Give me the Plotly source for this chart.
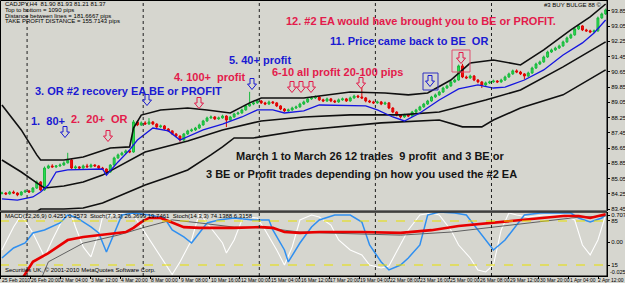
import plotly.graph_objects as go

W, H = 625, 283
BG = "#d6d6cf"

# ---------------- price data (CADJPY H4) ----------------
opens = [84.27,84.29,84.24,84.34,84.29,84.19,84.34,84.40,84.34,84.55,
84.87,84.45,85.60,85.71,85.66,85.71,85.76,85.87,86.02,85.60,
85.66,85.60,85.71,85.66,85.76,85.71,85.60,85.55,85.39,85.76,
86.13,86.29,86.39,86.50,86.44,88.02,87.86,87.97,87.91,88.02,
87.91,87.76,87.81,87.65,87.55,87.39,87.28,87.07,87.39,87.55,
87.60,87.70,87.86,88.07,88.23,88.28,88.18,88.23,88.33,88.12,
88.28,88.44,88.49,88.65,88.86,88.96,89.02,89.12,89.02,88.96,
89.07,89.02,88.86,88.70,88.60,88.65,88.75,88.81,88.96,89.07,
89.23,89.28,89.33,89.18,89.12,89.23,89.12,89.07,89.18,89.23,
89.12,89.28,89.38,89.33,89.28,89.12,89.07,89.02,89.07,88.96,
89.02,88.75,88.54,88.39,88.28,88.39,88.33,88.54,88.65,88.81,
88.96,89.12,89.33,89.44,89.59,89.80,89.91,90.12,90.22,90.96,
90.38,90.33,90.43,90.22,90.12,89.96,90.07,90.12,90.17,90.12,
90.22,90.38,90.54,90.70,90.64,90.54,90.43,90.59,90.85,91.06,
91.17,91.43,91.69,91.80,91.90,92.01,92.22,92.43,92.59,92.90,
93.06,92.85,92.80,92.74,92.80,93.48,93.69]
closes = [84.29,84.24,84.34,84.29,84.19,84.34,84.40,84.34,84.55,84.87,
84.45,85.60,85.71,85.66,85.71,85.76,85.87,86.02,85.60,85.66,
85.60,85.71,85.66,85.76,85.71,85.60,85.55,85.39,85.76,86.13,
86.29,86.39,86.50,86.44,88.02,87.86,87.97,87.91,88.02,87.91,
87.76,87.81,87.65,87.55,87.39,87.28,87.07,87.39,87.55,87.60,
87.70,87.86,88.07,88.23,88.28,88.18,88.23,88.33,88.12,88.28,
88.44,88.49,88.65,88.86,88.96,89.02,89.12,89.02,88.96,89.07,
89.02,88.86,88.70,88.60,88.65,88.75,88.81,88.96,89.07,89.23,
89.28,89.33,89.18,89.12,89.23,89.12,89.07,89.18,89.23,89.12,
89.28,89.38,89.33,89.28,89.12,89.07,89.02,89.07,88.96,89.02,
88.75,88.54,88.39,88.28,88.39,88.33,88.54,88.65,88.81,88.96,
89.12,89.33,89.44,89.59,89.80,89.91,90.12,90.22,90.96,90.38,
90.33,90.43,90.22,90.12,89.96,90.07,90.12,90.17,90.12,90.22,
90.38,90.54,90.70,90.64,90.54,90.43,90.59,90.85,91.06,91.17,
91.43,91.69,91.80,91.90,92.01,92.22,92.43,92.59,92.90,93.06,
92.85,92.80,92.74,92.80,93.48,93.69,93.90]
highs = [84.36,84.33,84.40,84.42,84.33,84.39,84.47,84.45,84.60,84.95,
84.92,85.68,85.78,85.80,85.76,85.84,85.95,86.40,86.08,85.74,
85.70,85.78,85.82,85.83,85.80,85.75,85.66,85.58,85.80,86.20,
86.36,86.46,86.57,86.55,88.12,88.08,88.05,88.06,88.22,88.07,
87.95,87.88,87.86,87.70,87.58,87.43,87.31,87.44,87.61,87.68,
87.76,87.93,88.13,88.30,88.36,88.33,88.30,88.40,88.37,88.34,
88.50,88.56,88.72,88.93,89.60,89.10,89.20,89.17,89.08,89.14,
89.12,89.06,88.90,88.75,88.72,88.82,88.88,89.03,89.14,89.30,
89.36,89.41,89.38,89.24,89.30,89.28,89.18,89.25,89.30,89.28,
89.35,89.45,89.44,89.90,89.33,89.18,89.13,89.14,89.12,89.09,
89.06,88.79,88.58,88.43,88.45,88.44,88.60,88.71,88.87,89.02,
89.18,89.39,89.51,89.66,89.87,89.98,90.19,90.30,91.03,91.07,
90.45,90.50,90.48,90.27,90.16,90.14,90.19,90.24,90.22,90.29,
90.45,90.61,90.77,90.78,90.70,90.58,90.66,90.92,91.13,91.24,
91.50,91.76,91.87,91.97,92.08,92.29,92.50,92.66,92.97,93.13,
93.10,92.91,92.86,92.87,93.55,93.76,93.97]
lows = [84.21,84.18,84.20,84.24,84.12,84.15,84.30,84.29,84.31,84.50,
84.40,84.41,85.55,85.61,85.60,85.66,85.72,85.84,85.55,85.54,
85.55,85.56,85.62,85.62,85.66,85.55,85.49,85.30,85.35,85.72,
86.08,86.25,86.33,86.38,86.40,87.80,87.81,87.86,87.87,87.85,
87.70,87.71,87.60,87.49,87.33,87.22,86.98,87.02,87.34,87.50,
87.55,87.65,87.82,88.02,88.18,88.12,88.13,88.19,87.75,88.08,
88.24,88.40,88.45,88.61,88.82,88.90,88.97,88.96,88.90,88.91,
88.96,88.80,88.64,88.54,88.55,88.60,88.70,88.76,88.91,89.02,
89.18,89.22,89.12,89.06,89.07,89.06,89.01,89.02,89.13,89.07,
89.08,89.23,89.27,89.22,89.05,89.01,88.96,88.97,88.90,88.91,
88.69,88.48,88.32,88.20,88.23,88.27,88.29,88.49,88.60,88.76,
88.91,89.08,89.28,89.39,89.54,89.75,89.86,90.07,90.18,90.32,
90.27,90.28,90.16,90.05,89.80,89.90,90.01,90.07,90.06,90.07,
90.17,90.33,90.49,90.58,90.48,90.25,90.38,90.54,90.80,91.01,
91.12,91.38,91.64,91.75,91.85,91.96,92.17,92.38,92.54,92.85,
92.79,92.74,92.68,92.69,92.75,93.43,93.64]
bars = list(range(len(closes)))

# ---------------- channel lines (bar index, price) ----------------
upper_x = [0,5,9,10,16,21,28,33,34,36,41,48,53,59,64,67,78,90,99,105,110,116,121,127,134,140,147,152,156]
upper_y = [88.91,87.60,86.29,86.02,86.02,86.18,86.65,86.71,87.70,88.38,88.65,88.75,88.65,88.49,89.02,89.28,89.28,89.59,89.54,89.44,89.54,90.22,91.11,91.27,91.01,91.80,92.85,93.53,94.21]
blue_x = [0,4,8,10,12,14,17,26,27,30,33,35,39,43,46,52,57,62,66,70,73,78,82,89,94,97,101,104,108,113,118,123,127,130,135,140,145,150,153,156]
blue_y = [83.98,83.92,84.08,84.34,84.71,85.39,85.50,85.55,85.23,85.92,86.55,87.07,87.70,87.55,87.07,87.60,87.91,88.28,88.65,88.65,88.49,88.60,88.91,88.86,88.86,88.65,88.28,88.07,88.49,89.17,89.75,89.96,89.80,89.85,90.22,90.75,91.53,92.17,92.69,93.37]
mid_x = [0,5,9,11,16,21,26,31,37,48,57,67,78,90,103,113,125,134,145,156]
mid_y = [86.02,85.39,84.82,84.55,84.66,84.87,85.23,85.76,86.44,87.02,87.60,88.07,88.28,88.39,88.39,88.54,89.17,89.70,90.91,92.22]
low_x = [8,10,16,21,26,31,37,43,48,54,57,60,65,78,98,113,119,124,127,134,145,156]
low_y = [83.19,83.45,83.45,83.50,83.77,84.19,84.71,85.13,85.50,86.29,86.71,87.18,87.18,87.60,87.97,88.12,87.76,87.76,88.12,88.75,89.44,90.75]

# ---------------- lower window: MACD + stochastics ----------------
macd_x = [5,8,12,17,21,25,30,32,34,36,38,41,43,47,51,60,67,70,73,77,82,93,103,111,118,129,139,145,149,152,156]
macd_y = [-1.00,-0.52,-0.29,0.05,0.13,0.18,0.24,0.26,0.37,0.52,0.63,0.63,0.55,0.39,0.37,0.37,0.39,0.37,0.26,0.24,0.26,0.26,0.24,0.31,0.42,0.52,0.63,0.68,0.68,0.63,0.73]
sig_x = [10,12,21,30,37,43,44,51,60,68,77,82,90,103,116,129,142,149,156]
sig_y = [-1.00,-0.52,-0.03,0.18,0.39,0.55,0.58,0.50,0.39,0.37,0.26,0.24,0.21,0.18,0.26,0.42,0.58,0.65,0.68]
stoch_b_x = [0,3,6,8,11,15,17,19,23,25,27,29,31,34,38,42,44,47,49,51,53,56,60,65,69,70,73,74,77,80,82,86,90,93,95,98,100,103,105,108,110,113,117,120,122,125,127,130,133,135,139,143,147,149,152,155,156]
stoch_b_y = [26.2,42.1,50.0,65.9,70.7,81.8,94.5,91.4,75.5,65.9,35.7,65.9,94.5,97.7,94.5,89.8,70.7,59.6,50.0,65.9,81.8,86.6,89.8,86.6,86.6,70.7,38.9,19.8,50.0,75.5,86.6,94.5,94.5,83.4,46.8,19.8,7.1,15.0,26.2,46.8,94.5,99.3,97.7,94.5,78.6,54.8,38.9,54.8,78.6,94.5,97.7,97.7,97.7,89.8,83.4,89.8,94.5]
stoch_w_x = [0,3,5,8,11,13,16,18,19,21,23,25,26,29,31,34,37,40,42,44,46,49,51,53,55,57,58,60,62,63,66,68,71,73,75,77,80,82,85,87,90,93,95,98,100,103,105,108,111,113,116,118,121,123,125,127,129,131,133,136,140,145,148,150,152,154,156]
stoch_w_y = [38.9,75.5,94.5,65.9,27.8,54.8,91.4,94.5,75.5,43.7,27.8,65.9,91.4,94.5,97.7,94.5,65.9,38.9,19.8,0.0,19.8,54.8,97.7,81.8,65.9,50.0,34.1,54.8,86.6,91.4,89.8,70.7,38.9,15.0,43.7,86.6,94.5,91.4,78.6,54.8,38.9,31.0,15.0,10.3,13.4,46.8,70.7,94.5,97.7,94.5,70.7,46.8,26.2,7.1,3.9,15.0,70.7,97.7,94.5,91.4,94.5,94.5,86.6,46.8,31.0,54.8,94.5]
stoch_levels = [85, 15]

# ---------------- axis labels ----------------
price_ticks = [83.45,84.25,85.05,85.85,86.65,87.45,88.25,89.05,89.85,90.65,91.45,92.25,93.05,93.85]
time_labels = ["25 Feb 2010","26 Feb 20:00","2 Mar 04:00","3 Mar 12:00","4 Mar 20:00",
               "8 Mar 00:00","9 Mar 08:00","10 Mar 16:00","12 Mar 00:00","15 Mar 04:00",
               "16 Mar 12:00","17 Mar 20:00","19 Mar 04:00","22 Mar 08:00","23 Mar 16:00",
               "25 Mar 00:00","26 Mar 08:00","29 Mar 12:00","30 Mar 20:00","1 Apr 04:00","2 Apr 12:00"]
week_starts = [6.5, 36.5, 66.5, 96.5, 126.5]

# ---------------- layout geometry (pixels) ----------------
PX_PER_BAR = 3.87
PLOT_R = 607
MAIN_B = 211
SUB_T, SUB_B = 212, 276
def px(x): return x / W
def py(y): return 1 - y / H

fig = go.Figure()
fig.add_trace(go.Candlestick(
    x=bars, open=opens, high=highs, low=lows, close=closes,
    increasing=dict(line=dict(color="#18b83c", width=1), fillcolor="#2ee052"),
    decreasing=dict(line=dict(color="#e00000", width=1), fillcolor="#f01010"),
    whiskerwidth=0, xaxis="x", yaxis="y", showlegend=False, hoverinfo="skip"))
for xs, ys, col, w in [(upper_x, upper_y, "#101010", 1.6), (mid_x, mid_y, "#101010", 1.6),
                       (low_x, low_y, "#101010", 1.6), (blue_x, blue_y, "#1515e0", 1.3)]:
    fig.add_trace(go.Scatter(x=xs, y=ys, mode="lines", line=dict(color=col, width=w),
                             xaxis="x", yaxis="y", showlegend=False, hoverinfo="skip"))

fig.add_trace(go.Scatter(x=stoch_w_x, y=stoch_w_y, mode="lines", line=dict(color="#ffffff", width=1.1),
                         xaxis="x2", yaxis="y2", showlegend=False))
fig.add_trace(go.Scatter(x=stoch_b_x, y=stoch_b_y, mode="lines", line=dict(color="#2f8ff0", width=1.5),
                         xaxis="x2", yaxis="y2", showlegend=False))
fig.add_trace(go.Scatter(x=sig_x, y=sig_y, mode="lines", line=dict(color="#606060", width=1),
                         xaxis="x2", yaxis="y3", showlegend=False))
fig.add_trace(go.Scatter(x=macd_x, y=macd_y, mode="lines", line=dict(color="#e80000", width=2.6),
                         xaxis="x2", yaxis="y3", showlegend=False))

xr = [-0.5, -0.5 + PLOT_R / PX_PER_BAR]
tickpos = [(29.9 * k + 0.5) / PX_PER_BAR - 0.5 for k in range(len(time_labels))]
tfont = dict(family="Liberation Sans, Arial", size=6, color="#000000")

fig.update_layout(
    width=W, height=H, autosize=False,
    margin=dict(l=0, r=0, t=0, b=0),
    paper_bgcolor=BG, plot_bgcolor=BG,
    xaxis=dict(domain=[0, px(PLOT_R)], range=xr, anchor="y", showticklabels=False,
               showgrid=False, zeroline=False, rangeslider=dict(visible=False), ticks="",
               automargin=False),
    yaxis=dict(domain=[py(MAIN_B), 1], range=[83.345, 94.42], anchor="x", side="right",
               tickvals=price_ticks, ticktext=[f"{v:.2f}" for v in price_ticks],
               ticks="outside", ticklen=2, tickcolor="#000", tickfont=tfont,
               showgrid=False, zeroline=False, showline=True, linecolor="#000", linewidth=1,
               automargin=False),
    xaxis2=dict(domain=[0, px(PLOT_R)], range=xr, anchor="y2", matches="x",
                tickvals=tickpos, showticklabels=False, ticks="outside", ticklen=2,
                tickcolor="#000", showgrid=False, zeroline=False, showline=True, linecolor="#000",
                automargin=False),
    yaxis2=dict(domain=[py(SUB_B), py(SUB_T)], range=[-2.5, 99.3], anchor="x2", side="right",
                tickvals=stoch_levels, ticktext=[str(v) for v in stoch_levels],
                ticks="outside", ticklen=2, tickcolor="#000", tickfont=tfont,
                showgrid=False, zeroline=False, showline=True, linecolor="#000",
                automargin=False),
    yaxis3=dict(range=[-0.891, 0.786], overlaying="y2", anchor="x2", side="right",
                tickvals=[0.707, 0.0], ticktext=["0.707", "0.00"],
                ticks="outside", ticklen=2, tickcolor="#000", tickfont=tfont,
                showgrid=False, zeroline=False, automargin=False),
)

shapes = []
for b in week_starts:
    shapes.append(dict(type="line", xref="x", yref="paper", x0=b, x1=b, y0=py(SUB_B), y1=1,
                       line=dict(color="#202020", width=1, dash="dot")))
for lv in stoch_levels:
    shapes.append(dict(type="line", xref="paper", yref="y2", x0=0, x1=px(PLOT_R), y0=lv, y1=lv,
                       line=dict(color="#e8e000", width=1.2, dash="dash")))
shapes.append(dict(type="rect", xref="paper", yref="paper", x0=px(0.5), x1=px(PLOT_R), y0=py(MAIN_B), y1=py(0.5),
                   line=dict(color="#000", width=1)))
shapes.append(dict(type="line", xref="paper", yref="paper", x0=0, x1=px(PLOT_R), y0=py(211.5), y1=py(211.5),
                   line=dict(color="#7a7a7a", width=2)))
shapes.append(dict(type="rect", xref="paper", yref="paper", x0=px(0.5), x1=px(PLOT_R), y0=py(SUB_B), y1=py(SUB_T),
                   line=dict(color="#000", width=1)))

RED = "#e31b4b"
BLUE = "#1a1ad2"

def arrow(cx, cy, col):
    pts = [(-2, -5.5), (2, -5.5), (2, 0), (4.5, 0), (0, 5.5), (-4.5, 0), (-2, 0)]
    path = "M " + " L ".join(f"{px(cx + dx):.5f} {py(cy + dy):.5f}" for dx, dy in pts) + " Z"
    return dict(type="path", xref="paper", yref="paper", path=path,
                line=dict(color=col, width=1), fillcolor=BG)

for cx, cy in [(65, 132), (147, 100), (252, 84), (430, 81)]:
    shapes.append(arrow(cx, cy, BLUE))
for cx, cy in [(108, 136), (199, 103), (292, 87), (301, 87), (311, 87), (361, 83), (461, 58)]:
    shapes.append(arrow(cx, cy, RED))
shapes.append(dict(type="rect", xref="paper", yref="paper", x0=px(423), x1=px(438), y0=py(90), y1=py(73),
                   line=dict(color="#3030c0", width=1)))
shapes.append(dict(type="rect", xref="paper", yref="paper", x0=px(452), x1=px(470), y0=py(72), y1=py(50),
                   line=dict(color="#e05070", width=1)))
fig.update_layout(shapes=shapes)

NB = "\u00a0"
big = [
    ("12. #2 EA would have brought you to BE or PROFIT.", 421, 21, RED),
    (f"11. Price came back to BE{NB} OR", 409, 41, BLUE),
    ("5. 40+ profit", 260, 60, BLUE),
    (f"4. 100+{NB} profit", 210, 77, RED),
    ("6-10 all profit 20-100 pips", 337, 72, RED),
    ("3. OR #2 recovery EA BE or PROFIT", 128, 91, BLUE),
    (f"1.{NB} 80+", 48, 121, BLUE),
    (f"2.{NB} 20+{NB} OR", 99, 119, RED),
    (f"March 1 to March 26 12 trades{NB} 9 profit{NB} and 3 BE or", 370, 156, "#141414"),
    ("3 BE or Profit trades depending on how you used the #2 EA", 361, 174, "#141414"),
]
ann = []
for t, x, y, c in big:
    ann.append(dict(text=f"<b>{t}</b>", x=px(x), y=py(y), xref="paper", yref="paper",
                    xanchor="center", yanchor="middle", showarrow=False,
                    font=dict(family="Liberation Sans, Arial", size=11, color=c)))
small = [
    ("CADJPY,H4  81.90 81.93 81.21 81.37", 3, 4, "left", 6),
    ("Top to bottom = 1090 pips", 3, 10, "left", 6),
    ("Distance between lines = 181.6667 pips", 3, 16, "left", 6),
    ("TAKE PROFIT DISTANCE = 155.7143 pips", 3, 21.5, "left", 6),
    ("#3 BUY BULGE 88 \u00a9", 604, 5, "right", 6),
    ("MACD(12,26,9) 0.4251 0.3573  Stoch(7,3,3) 26.3699 19.7461  Stoch(14,3,3) 74.1388 6.3158", 3, 216, "left", 6),
    ("Securities UK, \u00a9 2001-2010 MetaQuotes Software Corp.", 3, 270, "left", 6),
    ("-0.025", 608, 272, "left", 5.5),
]
for t, x, y, a, s in small:
    ann.append(dict(text=t, x=px(x), y=py(y), xref="paper", yref="paper",
                    xanchor=a, yanchor="middle", showarrow=False,
                    font=dict(family="Liberation Sans, Arial", size=s, color="#000")))
# time axis labels, left-aligned at their tick like the terminal draws them
last = len(time_labels) - 1
for k, (tv, lab) in enumerate(zip(tickpos, time_labels)):
    if k == last:
        ann.append(dict(text=lab, x=1.0, y=py(279.5), xref="paper", yref="paper",
                        xanchor="right", yanchor="middle", showarrow=False, borderpad=0,
                        font=dict(family="Liberation Sans, Arial", size=5, color="#000")))
    else:
        ann.append(dict(text=lab, x=tv, y=py(279.5), xref="x2", yref="paper",
                        xanchor="left", yanchor="middle", showarrow=False, borderpad=0,
                        font=dict(family="Liberation Sans, Arial", size=5, color="#000")))
fig.update_layout(annotations=ann)

fig.write_html("out.html")
